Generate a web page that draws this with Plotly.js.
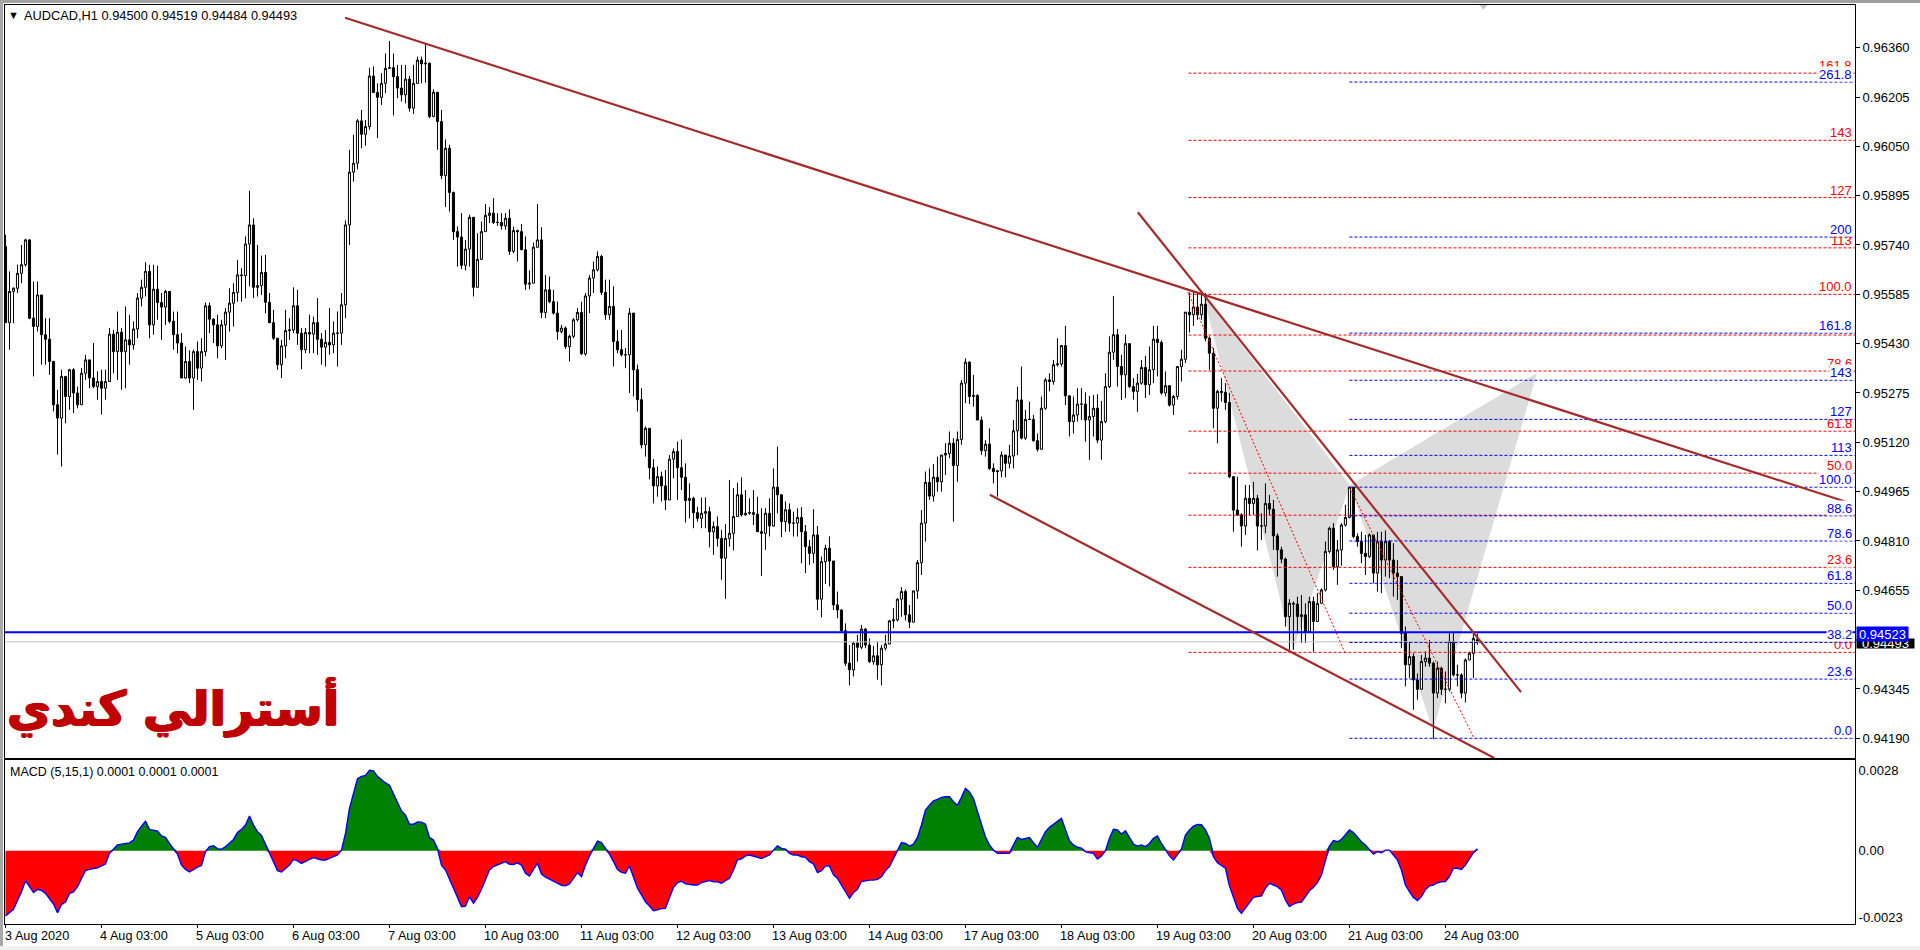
<!DOCTYPE html>
<html><head><meta charset="utf-8">
<script src="https://cdn.plot.ly/plotly-3.0.1.min.js"></script>
<style>html,body{margin:0;padding:0;background:#fff;overflow:hidden}</style></head>
<body><div id="chart" style="width:1920px;height:950px"></div>
<script>
// prices in 1/100000 units, one line per trading day (24 H1 bars)
const open5 = [95735,95496,95594,95604,95651,95678,95756,95510,95484,95583,95458,95444,95374,95238,95196,95327,95264,95348,95275,95238,95337,95379,95322,95295,
95311,95290,95311,95460,95405,95466,95405,95442,95426,95476,95573,95607,95657,95489,95601,95559,95545,95594,95500,95458,95432,95322,95374,95322,
95405,95353,95405,95549,95507,95489,95423,95489,95529,95557,95591,95646,95644,95743,95803,95607,95612,95654,95560,95496,95447,95364,95423,95471,
95473,95549,95463,95411,95465,95460,95496,95444,95419,95434,95426,95463,95463,95552,95803,95969,95997,96130,96088,96112,96271,96219,96204,96248,
96295,96297,96269,96233,96212,96261,96170,96248,96321,96309,96311,96144,96220,96128,95958,96044,95905,95782,95765,95676,95727,95827,95607,95695,
95782,95833,95840,95811,95811,95800,95824,95720,95785,95782,95725,95617,95620,95733,95756,95528,95599,95562,95526,95468,95479,95421,95453,95505,
95528,95398,95580,95636,95662,95704,95591,95521,95547,95437,95411,95395,95395,95526,95348,95254,95112,95164,95040,94983,95012,94983,94939,95067,
95091,95040,95010,94937,94944,94899,94881,94897,94902,94839,94855,94818,94756,94818,94834,94887,94955,94892,94897,94899,94894,94839,94834,94897,
94857,94979,94955,94871,94908,94866,94866,94884,94839,94792,94771,94829,94627,94745,94787,94747,94609,94593,94528,94426,94405,94489,94476,94533,
94483,94431,94449,94421,94473,94486,94559,94562,94627,94651,94578,94555,94653,94742,94866,94994,94951,95010,94996,95080,95085,95117,95047,95129,
95306,95372,95264,95267,95190,95094,95114,95038,95028,95030,95080,95054,95077,95156,95253,95133,95192,95192,95125,95098,95227,95316,95311,95364,
95366,95424,95266,95185,95206,95240,95240,95190,95201,95227,95127,95185,95295,95403,95458,95358,95332,95430,95295,95280,95306,95355,95301,95348,
95444,95434,95275,95298,95237,95264,95358,95381,95529,95521,95545,95521,95554,95447,95400,95227,95280,95277,95245,95012,94907,94892,94857,94944,
94928,94944,94857,94857,94928,94910,94826,94782,94753,94572,94614,94612,94572,94578,94525,94620,94557,94614,94656,94777,94850,94729,94782,94860,
94884,94979,94824,94808,94771,94761,94829,94709,94808,94750,94808,94750,94709,94698,94520,94421,94447,94373,94344,94431,94442,94426,94332,94410,
94344,94344,94494,94389,94389,94332,94436,94457,94500];
const close5 = [95496,95594,95604,95651,95678,95756,95510,95484,95583,95458,95444,95374,95238,95196,95327,95264,95348,95275,95238,95337,95379,95322,95295,95311,
95290,95311,95460,95405,95466,95405,95442,95426,95476,95573,95607,95657,95489,95601,95559,95545,95594,95500,95458,95432,95322,95374,95322,95405,
95353,95405,95549,95507,95489,95423,95489,95529,95557,95591,95646,95644,95743,95803,95607,95612,95654,95560,95496,95447,95364,95423,95471,95473,
95549,95463,95411,95465,95460,95496,95444,95419,95434,95426,95463,95463,95552,95803,95969,95997,96130,96088,96112,96271,96219,96204,96248,96295,
96297,96269,96233,96212,96261,96170,96248,96321,96309,96311,96144,96220,96128,95958,96044,95905,95782,95765,95676,95727,95827,95607,95695,95782,
95833,95840,95811,95811,95800,95824,95720,95785,95782,95725,95617,95620,95733,95756,95528,95599,95562,95526,95468,95479,95421,95453,95505,95528,
95398,95580,95636,95662,95704,95591,95521,95547,95437,95411,95395,95395,95526,95348,95254,95112,95164,95040,94983,95012,94983,94939,95067,95091,
95040,95010,94937,94944,94899,94881,94897,94902,94839,94855,94818,94756,94818,94834,94887,94955,94892,94897,94899,94894,94839,94834,94897,94857,
94979,94955,94871,94908,94866,94866,94884,94839,94792,94771,94829,94627,94745,94787,94747,94609,94593,94528,94426,94405,94489,94476,94533,94483,
94431,94449,94421,94473,94486,94559,94562,94627,94651,94578,94555,94653,94742,94866,94994,94951,95010,94996,95080,95085,95117,95047,95129,95306,
95372,95264,95267,95190,95094,95114,95038,95028,95030,95080,95054,95077,95156,95253,95133,95192,95192,95125,95098,95227,95316,95311,95364,95366,
95424,95266,95185,95206,95240,95240,95190,95201,95227,95127,95185,95295,95403,95458,95358,95332,95430,95295,95280,95306,95355,95301,95348,95444,
95434,95275,95298,95237,95264,95358,95381,95529,95521,95545,95521,95554,95447,95400,95227,95280,95277,95245,95012,94907,94892,94857,94944,94928,
94944,94857,94857,94928,94910,94826,94782,94753,94572,94614,94612,94572,94578,94525,94620,94557,94614,94656,94777,94850,94729,94782,94860,94884,
94979,94824,94808,94771,94761,94829,94709,94808,94750,94808,94750,94709,94698,94520,94421,94447,94373,94344,94431,94442,94426,94332,94410,94344,
94344,94494,94389,94389,94332,94436,94457,94504,94493];
const high5 = [95772,95657,95607,95678,95740,95760,95758,95625,95625,95583,95510,95510,95376,95285,95348,95327,95351,95353,95295,95353,95395,95337,95432,95343,
95348,95348,95479,95473,95531,95479,95547,95521,95500,95589,95631,95686,95678,95678,95675,95589,95599,95594,95531,95531,95463,95421,95409,95411,
95437,95447,95559,95559,95510,95521,95505,95542,95604,95620,95693,95667,95767,95910,95824,95740,95707,95709,95589,95536,95447,95442,95536,95510,
95607,95599,95479,95479,95521,95515,95573,95463,95473,95542,95500,95531,95589,95817,96039,96086,96136,96164,96133,96297,96301,96248,96280,96342,
96381,96342,96306,96306,96306,96271,96306,96332,96332,96374,96313,96229,96220,96164,96072,96055,95908,95798,95840,95756,95835,95809,95777,95814,
95869,95859,95887,95840,95840,95840,95852,95798,95788,95806,95767,95660,95748,95869,95796,95646,95641,95599,95562,95489,95484,95458,95510,95542,
95562,95589,95646,95688,95720,95709,95631,95631,95610,95473,95473,95416,95542,95526,95364,95290,95170,95117,95067,95044,95028,95033,95080,95101,
95122,95129,95054,94991,94949,94918,94947,94947,94918,94871,94887,94845,94863,95002,94976,94993,95010,94970,94944,94970,94949,94913,94913,94944,
95038,95106,94955,94934,94928,94902,94913,94916,94860,94813,94910,94857,94761,94798,94824,94747,94651,94595,94551,94483,94494,94515,94546,94536,
94504,94480,94494,94483,94515,94562,94599,94630,94665,94658,94609,94653,94750,94907,95028,95038,95052,95075,95080,95117,95154,95133,95154,95316,
95384,95374,95332,95271,95201,95127,95164,95054,95033,95091,95080,95112,95190,95295,95358,95222,95248,95206,95148,95264,95322,95337,95379,95447,
95426,95486,95266,95264,95290,95290,95277,95266,95269,95271,95250,95337,95453,95580,95476,95395,95458,95430,95322,95335,95379,95392,95421,95486,
95486,95440,95343,95293,95269,95358,95411,95529,95591,95594,95589,95583,95589,95453,95416,95285,95322,95306,95275,95012,95012,94897,94986,94986,
94996,94955,94897,94991,94955,94939,94834,94792,94758,94627,94620,94635,94640,94614,94635,94635,94646,94661,94808,94855,94866,94813,94866,94923,
94979,94907,94834,94839,94829,94834,94829,94839,94839,94843,94813,94803,94750,94698,94541,94494,94457,94394,94452,94463,94499,94431,94431,94415,
94400,94520,94525,94421,94394,94441,94462,94520,94519];
const low5 = [95496,95411,95494,95589,95620,95672,95507,95327,95468,95364,95364,95332,95217,95081,95044,95180,95222,95212,95227,95290,95316,95290,95290,95254,
95207,95254,95311,95337,95316,95285,95290,95364,95411,95447,95547,95578,95447,95458,95505,95442,95489,95494,95411,95400,95322,95320,95306,95222,
95316,95311,95390,95463,95432,95384,95416,95379,95468,95484,95562,95562,95573,95610,95573,95578,95583,95526,95494,95442,95348,95322,95384,95442,
95463,95426,95350,95400,95400,95400,95395,95364,95358,95395,95400,95358,95426,95510,95740,95939,95978,96044,96052,96102,96219,96076,96180,96217,
96295,96147,96201,96191,96185,96159,96152,96248,96248,96250,96138,96141,96039,95947,95859,95845,95756,95672,95664,95660,95672,95578,95615,95693,
95782,95809,95806,95800,95788,95788,95709,95714,95688,95725,95599,95601,95620,95730,95510,95510,95557,95521,95442,95463,95413,95374,95447,95500,
95395,95392,95526,95589,95657,95583,95505,95505,95358,95400,95390,95353,95275,95264,95217,95101,95075,95004,94928,94949,94934,94907,94939,95007,
94939,94970,94868,94881,94850,94871,94850,94850,94790,94766,94792,94688,94628,94792,94780,94887,94887,94889,94892,94860,94839,94700,94782,94824,
94855,94897,94822,94839,94839,94824,94824,94740,94709,94735,94740,94593,94570,94675,94667,94593,94567,94525,94417,94356,94384,94431,94470,94473,
94426,94421,94374,94356,94466,94487,94536,94557,94572,94560,94536,94554,94628,94703,94808,94939,94934,94965,94965,95017,95070,94871,94996,95112,
95243,95240,95232,95190,95080,95075,95033,94991,94949,95010,95010,95038,95038,95080,95129,95127,95190,95122,95091,95101,95222,95280,95301,95358,
95358,95237,95138,95148,95185,95190,95122,95065,95138,95117,95065,95180,95290,95379,95295,95253,95259,95290,95254,95216,95301,95259,95269,95306,
95327,95269,95264,95232,95206,95254,95311,95369,95465,95486,95505,95505,95437,95348,95164,95117,95248,95222,95007,94839,94889,94792,94829,94892,
94892,94780,94813,94834,94892,94782,94698,94740,94541,94468,94468,94520,94489,94489,94531,94462,94557,94614,94651,94771,94719,94672,94732,94855,
94881,94818,94792,94740,94703,94756,94677,94651,94646,94698,94693,94635,94625,94473,94353,94379,94279,94311,94342,94415,94415,94187,94316,94326,
94300,94337,94384,94353,94316,94302,94436,94379,94484];
// MACD, in 1/100000 units
const macd5 = [-226,-215,-203,-173,-142,-104,-127,-145,-134,-138,-148,-167,-185,-215,-187,-178,-148,-143,-125,-96,-69,-65,-62,-59,
-53,-46,-9,5,20,23,25,27,37,66,85,102,74,72,68,51,46,25,8,-12,-50,-65,-74,-65,
-57,-51,-3,14,17,7,5,14,25,39,63,74,89,120,89,66,53,23,-7,-38,-69,-74,-63,-50,
-30,-35,-44,-36,-30,-24,-28,-32,-32,-27,-21,-15,2,60,147,198,250,258,261,279,277,258,245,235,
227,198,166,138,123,92,92,100,99,92,46,37,8,-50,-67,-96,-130,-162,-194,-192,-159,-182,-162,-134,
-102,-67,-55,-50,-44,-38,-47,-48,-42,-50,-78,-88,-65,-44,-81,-92,-99,-107,-115,-120,-122,-115,-96,-76,
-90,-50,-18,8,33,28,8,-12,-38,-65,-75,-78,-53,-90,-130,-153,-177,-192,-208,-205,-201,-200,-165,-127,
-111,-106,-115,-118,-119,-119,-111,-107,-104,-108,-108,-113,-105,-96,-67,-32,-28,-18,-15,-18,-23,-27,-21,-15,
2,17,8,5,-9,-15,-15,-21,-23,-38,-46,-76,-69,-53,-53,-84,-96,-119,-137,-165,-145,-134,-107,-104,
-102,-102,-99,-90,-69,-55,-27,2,28,25,16,23,46,89,141,158,173,178,185,187,187,170,158,185,
216,204,181,136,92,48,20,2,-9,-9,-9,-9,20,46,39,43,46,28,12,39,66,81,92,100,
112,74,35,20,12,9,-3,-7,-9,-29,-18,0,43,74,72,58,69,46,23,16,20,14,25,43,
51,25,5,-18,-32,-15,5,54,72,85,91,90,72,43,-21,-42,-50,-61,-122,-165,-200,-217,-200,-181,
-162,-159,-157,-130,-113,-119,-125,-137,-171,-194,-185,-180,-178,-159,-139,-127,-111,-84,-32,16,35,31,39,54,
72,63,46,31,20,5,-12,-3,-7,2,2,-15,-32,-67,-119,-142,-162,-173,-159,-135,-122,-119,-111,-108,
-107,-90,-61,-61,-65,-50,-30,-7,7];

const yTickVals = [0.96360,0.96205,0.96050,0.95895,0.95740,0.95585,0.95430,0.95275,0.95120,0.94965,0.94810,0.94655,0.94345,0.94190];
const macdTickVals = [0.0028,0,-0.0023];
const macdTickText = ['0.0028','0.00','-0.0023'];
const dayTickIdx = [0,24,48,72,96,120,144,168,192,216,240,264,288,312,336,360];
const dayTickText = ['3 Aug 2020','4 Aug 03:00','5 Aug 03:00','6 Aug 03:00','7 Aug 03:00','10 Aug 03:00','11 Aug 03:00','12 Aug 03:00','13 Aug 03:00','14 Aug 03:00','17 Aug 03:00','18 Aug 03:00','19 Aug 03:00','20 Aug 03:00','21 Aug 03:00','24 Aug 03:00'];

const fibRedLevels = [0.96280,0.96069,0.95889,0.95731,0.95585,0.95457,0.95344,0.95155,0.95023,0.94891,0.94727,0.94460];
const fibRedText = ['161.8','143','127','113','100.0','','78.6','61.8','50.0','','23.6','0.0'];
const fibRedStart = 295.75;
const fibBlueLevels = [0.96252,0.95765,0.95463,0.95315,0.95192,0.95079,0.94979,0.94889,0.94810,0.94677,0.94583,0.94491,0.94376,0.94190];
const fibBlueText = ['261.8','200','161.8','143','127','113','100.0','88.6','78.6','61.8','50.0','38.2','23.6','0.0'];
const fibBlueStart = 336;
const xEnd = 462.4;

const trendLines = [
  {x:[84.9,460.1], y:[0.96454,0.94933]},
  {x:[283.1,378.9], y:[0.95843,0.94335]},
  {x:[246.1,372.2], y:[0.94955,0.94128]}
];
const zigzagLines = [
  {x:[295.6,334.9], y:[0.95593,0.94458]},
  {x:[336.1,367.0], y:[0.94977,0.94194]}
];
const patternX = [299.4,321.9,336.1,356.9,382.9];
const patternY = [0.95583,0.94468,0.94986,0.94216,0.95338];
const bluePrice = 0.94523, bidPrice = 0.94493;

const idx = close5.map((_,i)=>i);
const o = open5.map(v=>v/1e5), c = close5.map(v=>v/1e5);
const h = high5.map((v,i)=>Math.max(v,open5[i],close5[i])/1e5);
const l = low5.map((v,i)=>Math.min(v,open5[i],close5[i])/1e5);
const m = macd5.map(v=>v/1e5);

const FONT = 'Liberation Sans';
const traces = [];
traces.push({type:'candlestick',x:idx,open:o,high:h,low:l,close:c,xaxis:'x',yaxis:'y',whiskerwidth:0,
  increasing:{line:{color:'#000',width:1},fillcolor:'#fff'},
  decreasing:{line:{color:'#000',width:1},fillcolor:'#000'},hoverinfo:'skip'});
function line(x,y,color,width,dash,ax,ay){traces.push({type:'scatter',mode:'lines',x,y,xaxis:ax||'x',yaxis:ay||'y',
  line:{color,width,dash:dash||'solid'},hoverinfo:'skip'});}
line([-0.25,xEnd],[bidPrice,bidPrice],'#c0c0c0',1);
fibRedLevels.forEach(v=>line([fibRedStart,xEnd],[v,v],'#ff0000',1,'3px,2px'));
fibBlueLevels.forEach(v=>line([fibBlueStart,xEnd],[v,v],'#0000ff',1,'3px,2px'));
zigzagLines.forEach(s=>line(s.x,s.y,'#ff0000',1,'2px,2px'));
line([-0.25,xEnd],[bluePrice,bluePrice],'#0000ff',2);
trendLines.forEach(s=>line(s.x,s.y,'#a52a2a',2.2));
traces.push({type:'scatter',mode:'markers',x:[369.5],y:[0.96496],xaxis:'x',yaxis:'y',cliponaxis:true,
  marker:{symbol:'triangle-down',size:11,color:'#c8c8c8'},hoverinfo:'skip'});
// MACD pane: each same-sign run of the histogram is one filled trace
let run = [];
function flushRun(sign){
  if(run.length){
    const a = Math.max(run[0]-1,0), b = Math.min(run[run.length-1]+1,m.length-1);
    const xs = [], ys = [];
    for(let i=a;i<=b;i++){xs.push(i); ys.push(sign>0?Math.max(m[i],0):Math.min(m[i],0));}
    const col = sign>0?'#008000':'#ff0000';
    traces.push({type:'scatter',mode:'lines',x:xs,y:ys,xaxis:'x2',yaxis:'y2',fill:'tozeroy',fillcolor:col,line:{width:0,color:col},hoverinfo:'skip'});
  }
  run = [];
}
let cur = Math.sign(m[0])||1;
m.forEach((v,i)=>{const s=v>0?1:v<0?-1:cur; if(s!==cur){flushRun(cur);cur=s;} run.push(i);});
flushRun(cur);
line(idx,m,'#0000ff',1.4,'solid','x2','y2');

const annotations = [];
function note(text,x,y,xref,yref,xa,ya,size,color,extra){annotations.push(Object.assign({text,x,y,xref,yref,xanchor:xa,yanchor:ya,showarrow:false,borderpad:0,
  font:{family:FONT,size,color}},extra||{}));}
const fibX = 1853/1920;
fibRedLevels.forEach((v,i)=>{ if(fibRedText[i]) note(fibRedText[i],fibX,v,'paper','y','right','bottom',13,'#ff0000',{height:14,valign:'middle'}); });
fibBlueLevels.forEach((v,i)=>note(fibBlueText[i],fibX,v,'paper','y','right','bottom',13,'#0000ff',{height:14,valign:'middle',bgcolor:'#ffffff'}));
note('AUDCAD,H1 0.94500 0.94519 0.94484 0.94493',23/1920,1-15/950,'paper','paper','left','middle',12.8,'#000');
note('▼',7/1920,1-15/950,'paper','paper','left','middle',11,'#000');
note('MACD (5,15,1) 0.0001 0.0001 0.0001',9/1920,1-772/950,'paper','paper','left','middle',12.5,'#000');
note('أسترالي كندي',6/1920,1-707/950,'paper','paper','left','middle',48,'#c00000',
  {font:{family:'DejaVu Sans',size:48,color:'#c00000',weight:700,shadow:'1px 0 0 #c00000, -1px 0 0 #c00000, 0 1px 0 #c00000'}});
dayTickIdx.forEach((v,i)=>note(dayTickText[i],v,1-936/950,'x2','paper','left','middle',12.7,'#000',{xshift:-2}));
note('0.94493',1885/1920,bidPrice,'paper','y','center','middle',13,'#fff',{bgcolor:'#000',width:57,height:9,yshift:-1.5});
note('0.94523',1882.5/1920,bluePrice,'paper','y','center','middle',13,'#fff',{bgcolor:'#0000ff',width:51,height:14,yshift:-2});

const patternPath = (a)=>'M'+a.map(k=>patternX[k]+','+patternY[k]).join(' L')+' Z';
const shapes = [
  {type:'rect',xref:'paper',yref:'paper',x0:0,x1:1,y0:1-3/950,y1:1,fillcolor:'#a0a0a0',line:{width:0},layer:'below'},
  {type:'rect',xref:'paper',yref:'paper',x0:0,x1:3/1920,y0:0,y1:1,fillcolor:'#a8a8a8',line:{width:0},layer:'below'},
  {type:'rect',xref:'paper',yref:'paper',x0:0,x1:1,y0:0,y1:4/950,fillcolor:'#f0f0f0',line:{width:0},layer:'below'},
  {type:'path',xref:'x',yref:'y',path:patternPath([0,1,2]),fillcolor:'#dcdcdc',line:{width:0},layer:'below'},
  {type:'path',xref:'x',yref:'y',path:patternPath([2,3,4]),fillcolor:'#dcdcdc',line:{width:0},layer:'below'}
];
const xCommon = {range:[-0.25,xEnd],showgrid:false,zeroline:false,showline:true,linecolor:'#000',linewidth:1,mirror:true,
  domain:[4.5/1920,1855/1920],fixedrange:true,rangeslider:{visible:false}};
const layout = {
  width:1920,height:950,margin:{l:0,r:0,t:0,b:0},paper_bgcolor:'#fff',plot_bgcolor:'rgba(0,0,0,0)',showlegend:false,hovermode:false,
  font:{family:FONT,size:13,color:'#000'},shapes,annotations,boxgap:0.25,
  xaxis:Object.assign({},xCommon,{anchor:'y',showticklabels:false,ticks:''}),
  xaxis2:Object.assign({},xCommon,{anchor:'y2',showticklabels:false,ticks:'outside',ticklen:3,tickcolor:'#000',tickmode:'array',tickvals:dayTickIdx}),
  yaxis:{domain:[1-758/950,1-4.5/950],range:[0.94128,0.964957],side:'right',anchor:'x',showgrid:false,zeroline:false,showline:true,linecolor:'#000',mirror:true,
    tickmode:'array',tickvals:yTickVals,ticktext:yTickVals.map(v=>v.toFixed(5)),ticks:'outside',ticklen:4,tickcolor:'#000',fixedrange:true,tickfont:{family:FONT,size:13,color:'#000'}},
  yaxis2:{domain:[1-924/950,1-760/950],range:[-0.002543,0.003147],side:'right',anchor:'x2',showgrid:false,zeroline:false,showline:true,linecolor:'#000',mirror:true,
    tickmode:'array',tickvals:macdTickVals,ticktext:macdTickText,ticks:'',fixedrange:true,tickfont:{family:FONT,size:13,color:'#000'}}
};
Plotly.newPlot('chart',traces,layout,{staticPlot:true,displayModeBar:false});
</script></body></html>
